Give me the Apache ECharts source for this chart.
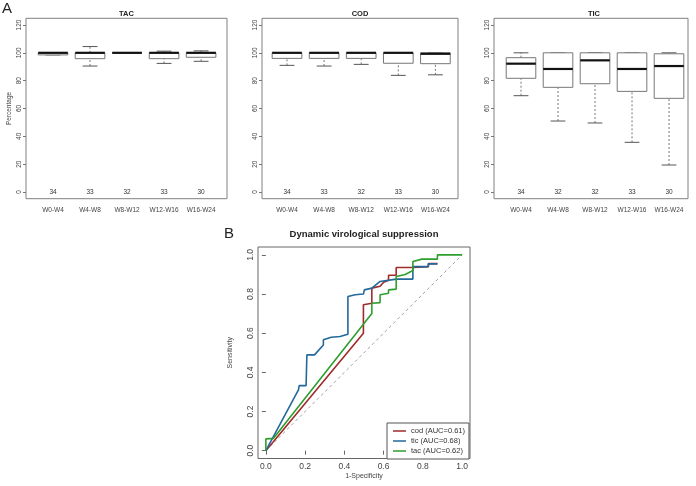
<!DOCTYPE html>
<html><head><meta charset="utf-8">
<script src="https://cdn.jsdelivr.net/npm/echarts@6/dist/echarts.min.js"></script>
<style>html,body{margin:0;padding:0;background:#fff}#c{width:696px;height:486px}</style>
</head><body><div id="c"></div>
<script>
// ---------- data ----------
const periods = ['W0-W4', 'W4-W8', 'W8-W12', 'W12-W16', 'W16-W24'];
// each box: [lower whisker, Q1, median, Q3, upper whisker]
const tacBoxes = [[98.5, 98.5, 100, 100, 100], [90.5, 95.8, 100, 100, 104.5], [100, 100, 100, 100, 100], [92.4, 95.8, 100, 100, 101.2], [93.9, 96.8, 100, 100, 101.4]];
const codBoxes = [[91, 96, 100, 100, 100], [90.5, 96, 100, 100, 100], [91.7, 96, 100, 100, 100], [83.8, 92.5, 100, 100, 100], [84.2, 92.2, 99.3, 100, 100]];
const ticBoxes = [[69.2, 81.7, 92.2, 96.5, 100], [51, 75.2, 88.4, 100, 100], [49.6, 77.8, 94.6, 100, 100], [35.7, 72.3, 88.4, 100, 100], [19.4, 67.3, 90.5, 99.3, 100]];
const tacCounts = [34, 33, 32, 33, 30];
const codCounts = [34, 33, 32, 33, 30];
const ticCounts = [34, 32, 32, 33, 30];
const percentTicks = [0, 20, 40, 60, 80, 100, 120];
const panelTitles = ['TAC', 'COD', 'TIC'];

const rocTicks = [0, 0.2, 0.4, 0.6, 0.8, 1.0];
const codFpr = [0, 0.497, 0.497, 0.54, 0.54, 0.582, 0.60, 0.625, 0.625, 0.664, 0.664, 0.749, 0.749, 0.828, 0.828, 0.874];
const codTpr = [0, 0.600, 0.745, 0.753, 0.830, 0.840, 0.860, 0.870, 0.896, 0.896, 0.935, 0.935, 0.940, 0.940, 0.955, 0.955];
const ticFpr = [0, 0.166, 0.17, 0.205, 0.209, 0.248, 0.293, 0.293, 0.333, 0.378, 0.418, 0.418, 0.455, 0.497, 0.502, 0.54, 0.582, 0.664, 0.749, 0.749, 0.828, 0.828, 0.874];
const ticTpr = [0, 0.31, 0.332, 0.332, 0.489, 0.489, 0.54, 0.566, 0.579, 0.583, 0.595, 0.787, 0.796, 0.80, 0.821, 0.83, 0.864, 0.876, 0.876, 0.94, 0.94, 0.954, 0.954];
const tacFpr = [0, 0, 0.039, 0.54, 0.54, 0.582, 0.582, 0.625, 0.625, 0.664, 0.664, 0.71, 0.749, 0.749, 0.795, 0.874, 0.874, 1.0];
const tacTpr = [0, 0.06, 0.063, 0.70, 0.753, 0.756, 0.796, 0.804, 0.821, 0.825, 0.889, 0.90, 0.92, 0.966, 0.978, 0.978, 1.0, 1.0];
const diagonal = [[0, 0], [1, 1]];
const rocNames = ['cod (AUC=0.61)', 'tic (AUC=0.68)', 'tac (AUC=0.62)'];
const rocColors = ['#A12A2A', '#23699C', '#2E9E2E'];

// ---------- chart ----------
const FONT = 'Liberation Sans, Arial, sans-serif';
const chart = echarts.init(document.getElementById('c'), null, { renderer: 'canvas' });

const panels = [
  { left: 26, width: 201, min: 0.27, max: 5.70, boxes: tacBoxes, counts: tacCounts, center: 126.5 },
  { left: 262, width: 196, min: 0.326, max: 5.609, boxes: codBoxes, counts: codCounts, center: 360 },
  { left: 494, width: 194, min: 0.27, max: 5.513, boxes: ticBoxes, counts: ticCounts, center: 594 }
];

function boxRender(params, api) {
  const x = api.value(0);
  const lo = api.value(1), q1 = api.value(2), med = api.value(3), q3 = api.value(4), hi = api.value(5);
  const w = api.size([0.8, 0])[0];
  const pLo = api.coord([x, lo]), pQ1 = api.coord([x, q1]), pMed = api.coord([x, med]),
        pQ3 = api.coord([x, q3]), pHi = api.coord([x, hi]), p0 = api.coord([x, 0]);
  const cx = pLo[0];
  const dash = { stroke: '#777', lineWidth: 1, lineDash: [2, 2] };
  const solid = { stroke: '#555', lineWidth: 1 };
  const children = [];
  if (pLo[1] - pQ1[1] > 0.5) children.push({ type: 'line', shape: { x1: cx, y1: pLo[1], x2: cx, y2: pQ1[1] }, style: dash });
  if (pQ3[1] - pHi[1] > 0.5) children.push({ type: 'line', shape: { x1: cx, y1: pQ3[1], x2: cx, y2: pHi[1] }, style: dash });
  children.push({ type: 'line', shape: { x1: cx - w / 4, y1: pLo[1], x2: cx + w / 4, y2: pLo[1] }, style: solid });
  children.push({ type: 'line', shape: { x1: cx - w / 4, y1: pHi[1], x2: cx + w / 4, y2: pHi[1] }, style: solid });
  children.push({ type: 'rect', shape: { x: cx - w / 2, y: pQ3[1], width: w, height: pQ1[1] - pQ3[1] },
                  style: { fill: '#fff', stroke: '#777', lineWidth: 1 } });
  children.push({ type: 'line', shape: { x1: cx - w / 2, y1: pMed[1], x2: cx + w / 2, y2: pMed[1] },
                  style: { stroke: '#111', lineWidth: 2.2 } });
  children.push({ type: 'text', x: cx, y: p0[1],
                  style: { text: String(api.value(6)), align: 'center', verticalAlign: 'middle',
                           fontSize: 6.5, fill: '#333', fontFamily: FONT } });
  return { type: 'group', children };
}

const grids = [], xAxes = [], yAxes = [], series = [], graphics = [];
panels.forEach((p, i) => {
  grids.push({ left: p.left, top: 18.3, width: p.width, height: 180.4, show: true,
               borderColor: '#808080', borderWidth: 1, backgroundColor: 'transparent', containLabel: false });
  xAxes.push({ type: 'value', gridIndex: i, min: p.min, max: p.max,
               axisLine: { show: false }, axisTick: { show: false }, splitLine: { show: false },
               axisLabel: { customValues: [1, 2, 3, 4, 5], formatter: v => periods[Math.round(v) - 1],
                            fontSize: 6.5, color: '#444', margin: 8, fontFamily: FONT } });
  yAxes.push({ type: 'value', gridIndex: i, min: -4.8, max: 124.8,
               axisLine: { show: false }, splitLine: { show: false },
               axisTick: { show: true, customValues: percentTicks, length: 3, lineStyle: { color: '#777' } },
               axisLabel: { customValues: percentTicks, rotate: 90, fontSize: 6.5, color: '#444', margin: 3, fontFamily: FONT },
               name: i === 0 ? 'Percentage' : '', nameLocation: 'middle', nameGap: 13,
               nameTextStyle: { fontSize: 6.5, color: '#444', fontFamily: FONT } });
  series.push({ type: 'custom', xAxisIndex: i, yAxisIndex: i, renderItem: boxRender, clip: false,
                encode: { x: 0, y: [1, 2, 3, 4, 5] },
                data: p.boxes.map((b, k) => [k + 1, b[0], b[1], b[2], b[3], b[4], p.counts[k]]) });
  graphics.push({ type: 'text', x: p.center, y: 14,
                  style: { text: panelTitles[i], align: 'center', verticalAlign: 'middle', fontSize: 7.5,
                           fontWeight: 'bold', fill: '#222', fontFamily: FONT } });
});

// ROC panel
grids.push({ left: 258, top: 247, width: 212, height: 211.5, show: true,
             borderColor: '#666', borderWidth: 1, backgroundColor: 'transparent' });
xAxes.push({ type: 'value', gridIndex: 3, min: -0.04, max: 1.04,
             axisLine: { show: false }, splitLine: { show: false },
             axisTick: { show: true, customValues: rocTicks, length: 4, lineStyle: { color: '#666' } },
             axisLabel: { customValues: rocTicks, formatter: v => v.toFixed(1), fontSize: 8.5, color: '#444', margin: 4, fontFamily: FONT },
             name: '1-Specificity', nameLocation: 'middle', nameGap: 12,
             nameTextStyle: { fontSize: 7, color: '#444', fontFamily: FONT } });
yAxes.push({ type: 'value', gridIndex: 3, min: -0.04, max: 1.04,
             axisLine: { show: false }, splitLine: { show: false },
             axisTick: { show: true, customValues: rocTicks, length: 4, lineStyle: { color: '#666' } },
             axisLabel: { customValues: rocTicks, formatter: v => v.toFixed(1), rotate: 90, fontSize: 8.5, color: '#444', margin: 3, fontFamily: FONT },
             name: 'Sensitivity', nameLocation: 'middle', nameGap: 24,
             nameTextStyle: { fontSize: 7, color: '#444', fontFamily: FONT } });

series.push({ type: 'line', name: 'diag', xAxisIndex: 3, yAxisIndex: 3, data: diagonal, symbol: 'none',
              lineStyle: { color: '#888', width: 0.8, type: [3, 3] }, silent: true });
const rocSets = [[codFpr, codTpr], [ticFpr, ticTpr], [tacFpr, tacTpr]];
rocSets.forEach((s, i) => {
  series.push({ type: 'line', name: rocNames[i], xAxisIndex: 3, yAxisIndex: 3, symbol: 'none',
                data: s[0].map((f, k) => [f, s[1][k]]),
                lineStyle: { color: rocColors[i], width: 1.6 }, itemStyle: { color: rocColors[i] } });
});

graphics.push({ type: 'text', x: 2, y: 1, style: { text: 'A', fontSize: 15, fill: '#222', fontFamily: FONT } });
graphics.push({ type: 'text', x: 224, y: 226, style: { text: 'B', fontSize: 15, fill: '#222', fontFamily: FONT } });
graphics.push({ type: 'text', x: 364, y: 234,
                style: { text: 'Dynamic virological suppression', align: 'center', verticalAlign: 'middle',
                         fontSize: 9.5, fontWeight: 'bold', fill: '#222', fontFamily: FONT } });

chart.setOption({
  animation: false,
  backgroundColor: '#fff',
  grid: grids,
  xAxis: xAxes,
  yAxis: yAxes,
  series: series,
  graphic: graphics,
  legend: {
    data: rocNames, orient: 'vertical', left: 387, top: 423,
    icon: 'rect', itemWidth: 13, itemHeight: 1.5, itemGap: 0,
    padding: [3, 4, 3, 6], borderColor: '#555', borderWidth: 1, backgroundColor: '#fff',
    textStyle: { fontSize: 7.5, color: '#333', lineHeight: 10, fontFamily: FONT }
  }
});
</script>
</body></html>
